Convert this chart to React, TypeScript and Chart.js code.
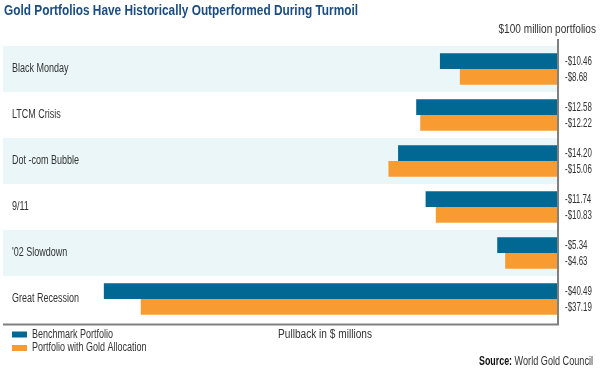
import React, { useEffect, useRef } from "react";
import { Chart, registerables } from "chart.js";

Chart.register(...registerables);

const categories = ["Black Monday", "LTCM Crisis", "Dot -com Bubble", "9/11", "'02 Slowdown", "Great Recession"];
const benchmark = [-10.46, -12.58, -14.2, -11.74, -5.34, -40.49];
const goldAlloc = [-8.68, -12.22, -15.06, -10.83, -4.63, -37.19];
const seriesNames = ["Benchmark Portfolio", "Portfolio with Gold Allocation"];

const BLUE = "#006892";
const ORANGE = "#f89c32";
const BAND = "#eaf6f8";
const FONT = "'Liberation Sans', Arial, sans-serif";
const TXT = "#333333";

const fmt = (v: number) => "-$" + Math.abs(v).toFixed(2);

function text(ctx: any, s: string, x: number, y: number, o: any = {}) {
  const size = o.size || 12;
  const sx = o.sx || 0.75;
  ctx.save();
  ctx.font = `${o.bold ? "bold " : ""}${size}px ${FONT}`;
  ctx.fillStyle = o.color || TXT;
  ctx.textAlign = o.align || "left";
  ctx.textBaseline = "middle";
  ctx.translate(x, y);
  ctx.scale(sx, 1);
  ctx.fillText(s, 0, 0);
  ctx.restore();
}

function width(ctx: any, s: string, size: number, bold: boolean, sx: number) {
  ctx.save();
  ctx.font = `${bold ? "bold " : ""}${size}px ${FONT}`;
  const w = ctx.measureText(s).width * sx;
  ctx.restore();
  return w;
}

const decor = {
  id: "decor",
  beforeDatasetsDraw(chart: any) {
    const { ctx, chartArea, scales } = chart;
    const y = scales.y;
    const n = categories.length;
    const rowH = (chartArea.bottom - chartArea.top) / n;
    ctx.save();
    ctx.fillStyle = BAND;
    for (let i = 0; i < n; i += 2) {
      const c = y.getPixelForValue(i);
      ctx.fillRect(chartArea.left, c - rowH / 2, chartArea.right - chartArea.left, rowH);
    }
    ctx.restore();
  },
  afterDraw(chart: any) {
    const { ctx, chartArea, scales } = chart;
    const y = scales.y;
    const x = scales.x;
    categories.forEach((c, i) => {
      text(ctx, c, chartArea.left + 9, y.getPixelForValue(i), { size: 12, sx: 0.75 });
    });
    const zx = x.getPixelForValue(0) + 1;
    ctx.save();
    ctx.strokeStyle = "#808080";
    ctx.lineWidth = 2;
    ctx.beginPath();
    ctx.moveTo(zx, 39);
    ctx.lineTo(zx, chartArea.bottom + 3.5);
    ctx.moveTo(chartArea.left, chartArea.bottom + 2.5);
    ctx.lineTo(zx + 1, chartArea.bottom + 2.5);
    ctx.stroke();
    ctx.restore();
    chart.data.datasets.forEach((ds: any, di: number) => {
      const meta = chart.getDatasetMeta(di);
      meta.data.forEach((el: any, i: number) => {
        text(ctx, fmt(ds.data[i]), zx + 7, el.y + 1, { size: 12, sx: 0.66 });
      });
    });
    const title = "Gold Portfolios Have Historically Outperformed During Turmoil";
    const tw = width(ctx, title, 15, true, 1);
    text(ctx, title, 4, 11, { size: 15, bold: true, color: "#1b4c80", sx: 354 / tw });
    text(ctx, "$100 million portfolios", 596, 30, { size: 12, align: "right", sx: 0.84 });
    const cols = [BLUE, ORANGE];
    seriesNames.forEach((s, i) => {
      const ly = 334.5 + i * 13.5;
      ctx.save();
      ctx.fillStyle = cols[i];
      ctx.fillRect(12, ly - 3, 15, 6);
      ctx.restore();
      text(ctx, s, 32, ly, { size: 12, sx: 0.75 });
    });
    text(ctx, "Pullback in $ millions", 278, 335, { size: 12.5, sx: 0.81 });
    const rest = " World Gold Council";
    const rw = width(ctx, rest, 12, false, 0.76);
    text(ctx, rest, 593, 362, { size: 12, align: "right", sx: 0.76 });
    text(ctx, "Source:", 593 - rw, 362, { size: 12, bold: true, align: "right", sx: 0.74, color: "#111" });
  },
};

export default function App() {
  const ref = useRef<HTMLCanvasElement>(null);
  useEffect(() => {
    if (!ref.current) return;
    const chart = new Chart(ref.current, {
      type: "bar",
      data: {
        labels: categories,
        datasets: [
          { label: seriesNames[0], data: benchmark, backgroundColor: BLUE, categoryPercentage: 0.68, barPercentage: 1 },
          { label: seriesNames[1], data: goldAlloc, backgroundColor: ORANGE, categoryPercentage: 0.68, barPercentage: 1 },
        ],
      },
      options: {
        indexAxis: "y",
        responsive: false,
        animation: false,
        layout: { padding: { left: 3, right: 43, top: 46, bottom: 48 } },
        plugins: { legend: { display: false }, tooltip: { enabled: false } },
        scales: {
          x: { display: false, min: -49.5, max: 0 },
          y: { display: false },
        },
      },
      plugins: [decor],
    } as any);
    return () => chart.destroy();
  }, []);
  return (
    <div style={{ position: "absolute", left: 0, top: 0, width: 600, height: 370, background: "#fff" }}>
      <canvas ref={ref} width={600} height={370} style={{ width: 600, height: 370 }} />
    </div>
  );
}
